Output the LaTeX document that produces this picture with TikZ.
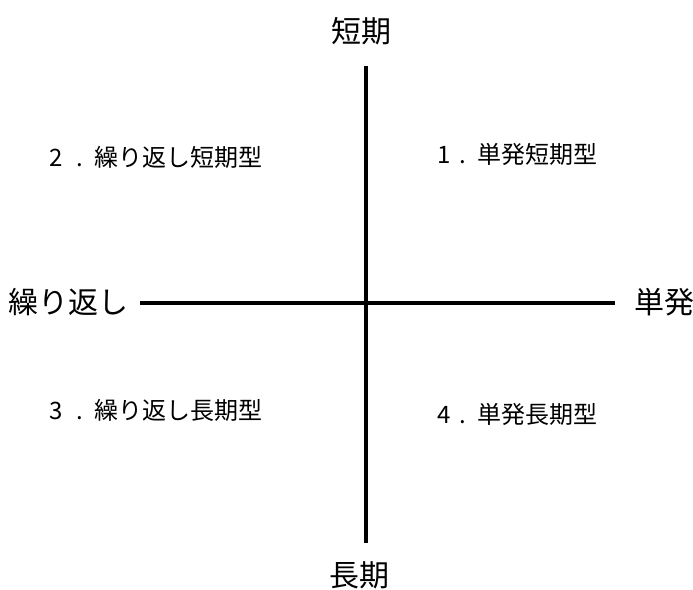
\documentclass[tikz,border=0pt]{standalone}
\usepackage{fontspec}
\newfontfamily\jp{Noto Sans CJK JP}
\newcommand{\numlab}[3]{\makebox[#1][l]{#2}\makebox[18pt][l]{.}#3}
\begin{document}
\begin{tikzpicture}[x=1pt,y=-1pt,
  axislabel/.style={font=\jp\fontsize{30}{33}\selectfont, inner sep=0pt},
  quadlabel/.style={font=\jp\fontsize{24}{27}\selectfont, inner sep=0pt, anchor=west},
  axis/.style={line width=3.2pt}]
\useasboundingbox[fill=white] (0,0) rectangle (693,589);
\coordinate (top) at (366,66);
\coordinate (bottom) at (366,543);
\coordinate (left) at (140,303);
\coordinate (right) at (615,303);
\draw[axis] (top) -- (bottom);
\draw[axis] (left) -- (right);
\node[axislabel] (short) at (361,31) {短期};
\node[axislabel] (long) at (359,575) {長期};
\node[axislabel, anchor=west] (repeat) at (8,302) {繰り返し};
\node[axislabel, anchor=west] (single) at (634,302) {単発};
\node[quadlabel] (q2) at (49,157) {\numlab{27pt}{2}{繰り返し短期型}};
\node[quadlabel] (q1) at (437,154) {\numlab{22pt}{1}{単発短期型}};
\node[quadlabel] (q3) at (49,410) {\numlab{27pt}{3}{繰り返し長期型}};
\node[quadlabel] (q4) at (437,414) {\numlab{22pt}{4}{単発長期型}};
\end{tikzpicture}
\end{document}
